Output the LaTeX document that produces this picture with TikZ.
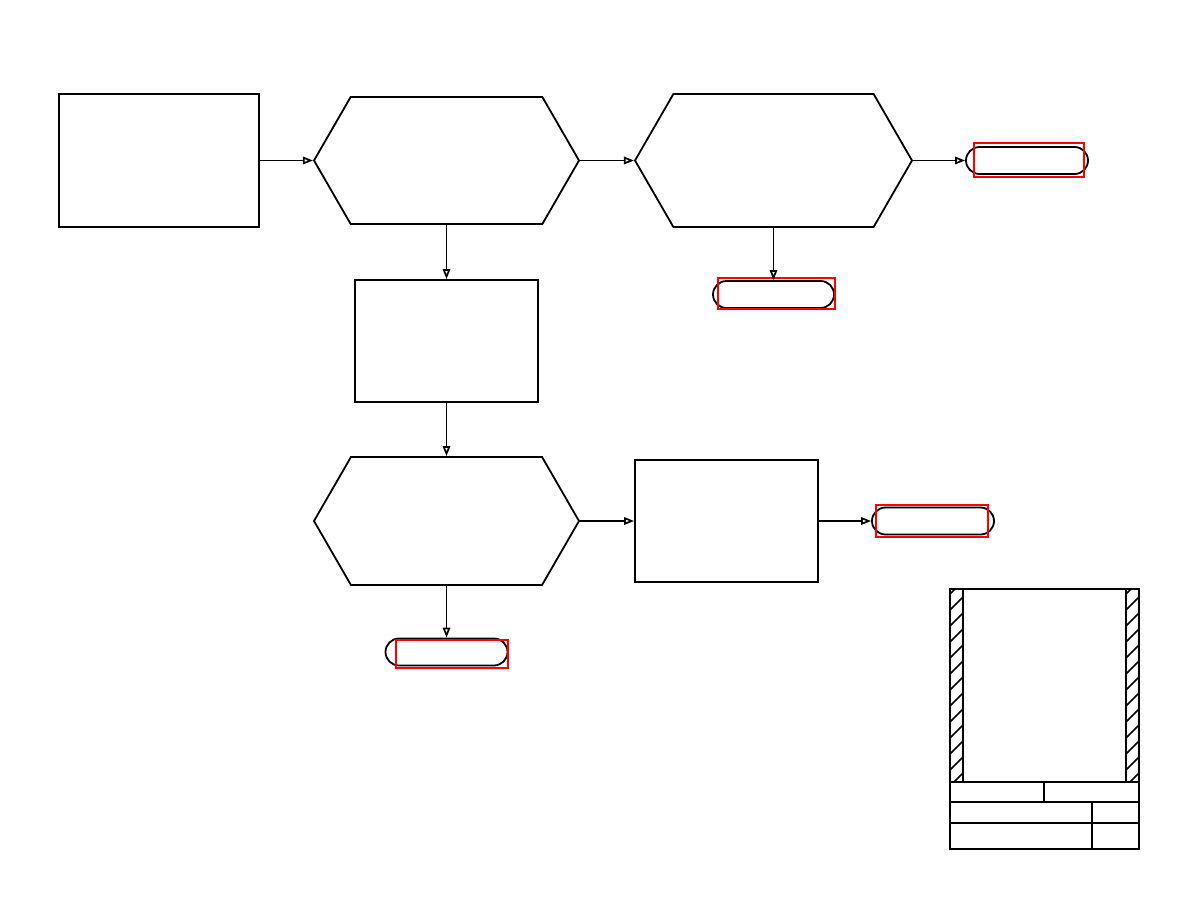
\documentclass[tikz,border=0pt]{standalone}
\usetikzlibrary{arrows.meta,shapes.symbols}
\begin{document}
\begin{tikzpicture}[x=1pt,y=-1pt,
  line width=1.8pt,
  procbox/.style={draw,rectangle,inner sep=0pt,line width=1.8pt},
  hexbox/.style={draw,signal,signal to=east and west,signal pointer angle=120,inner sep=0pt,line width=1.8pt},
  termbox/.style={draw,rectangle,rounded corners=13.5pt,inner sep=0pt,minimum height=27pt,line width=1.8pt},
  redbox/.style={draw=red,rectangle,inner sep=0pt,line width=1.3pt},
  flow/.style={-{Triangle[open,length=10pt,width=7.5pt]},line width=1.7pt},
  tb/.style={line width=2pt}]
\useasboundingbox (0,0) rectangle (1188,918);
% process boxes
\node[procbox,minimum width=200pt,minimum height=133pt] (A) at (159,160.5) {};
\node[procbox,minimum width=183pt,minimum height=122pt] (F) at (446.5,341) {};
\node[procbox,minimum width=183pt,minimum height=122pt] (H) at (726.5,521) {};
% hexagons
\node[hexbox,minimum width=265pt,minimum height=127pt] (B) at (446.5,160.5) {};
\node[hexbox,minimum width=277pt,minimum height=133pt] (C) at (773.5,160.5) {};
\node[hexbox,minimum width=265pt,minimum height=128pt] (G) at (446.5,521) {};
% terminals
\node[termbox,minimum width=122pt] (D) at (1027,160.5) {};
\node[termbox,minimum width=121pt] (E) at (773.5,294.5) {};
\node[termbox,minimum width=122pt] (I) at (933,521) {};
\node[termbox,minimum width=122pt] (J) at (446.5,652) {};
% red boxes
\node[redbox,minimum width=110pt,minimum height=34pt] (Dr) at (1029,160) {};
\node[redbox,minimum width=117pt,minimum height=31pt] (Er) at (776.5,293.5) {};
\node[redbox,minimum width=112pt,minimum height=32pt] (Ir) at (932,521) {};
\node[redbox,minimum width=112pt,minimum height=28pt] (Jr) at (452,654) {};
% connectors
\draw[flow] (A.east) -- (B.west);
\draw[flow] (B.east) -- (C.west);
\draw[flow] (C.east) -- (D.west);
\draw[flow] (C.south) -- (E.north);
\draw[flow] (B.south) -- (F.north);
\draw[flow] (F.south) -- (G.north);
\draw[flow] (G.east) -- (H.west);
\draw[flow] (H.east) -- (I.west);
\draw[flow] (G.south) -- (J.north);
% title block
\node[draw,rectangle,tb,minimum width=189pt,minimum height=260pt,inner sep=0pt] (TB) at (1044.5,719) {};
\begin{scope}
\clip (950,589) rectangle (963,782);
\foreach \y in {581,597,...,790} \draw[line width=1.6pt] (950,\y+13) -- (963,\y);
\end{scope}
\begin{scope}
\clip (1126,589) rectangle (1139,782);
\foreach \y in {581,597,...,790} \draw[line width=1.6pt] (1126,\y+13) -- (1139,\y);
\end{scope}
\draw[tb] (963,589) -- (963,782);
\draw[tb] (1126,589) -- (1126,782);
\draw[tb] (950,782) -- (1139,782);
\draw[line width=2.6pt] (950,802) -- (1139,802);
\draw[line width=2.6pt] (950,823) -- (1139,823);
\draw[tb] (1044,782) -- (1044,802);
\draw[tb] (1092,802) -- (1092,849);
\end{tikzpicture}
\end{document}
